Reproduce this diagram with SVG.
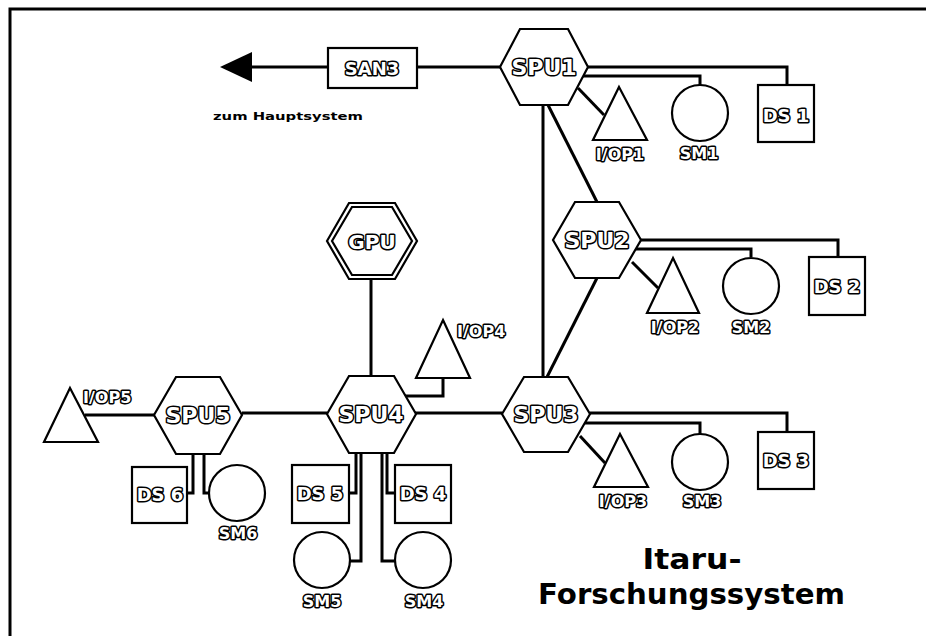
<svg xmlns="http://www.w3.org/2000/svg" width="926" height="636" viewBox="0 0 926 636">
<defs>
<style>
.sh{fill:#fff;stroke:#000;stroke-width:2.2;stroke-linejoin:miter}
.ln{fill:none;stroke:#000;stroke-width:3;stroke-linejoin:miter}
.ol{font-family:"DejaVu Sans",sans-serif;font-weight:bold;fill:#fff;stroke:#000;stroke-width:3;paint-order:stroke;stroke-linejoin:round;text-anchor:middle}
.st{text-anchor:start}
.hx{font-size:22px}
.ds{font-size:18px}
.sm{font-size:16px}
.io{font-size:16px}
.ti{font-family:"DejaVu Sans",sans-serif;font-weight:bold;fill:#000}
</style>
</defs>
<rect width="926" height="636" fill="#fff"/>
<g id="frame"><polyline points="10,636 10,9 926,9" fill="none" stroke="#000" stroke-width="3"/></g>

<g id="connectors">
<line class="ln" x1="250" y1="67" x2="328" y2="67"/>
<polygon points="220,67 252,52 252,82" fill="#000"/>
<line class="ln" x1="417" y1="67" x2="500" y2="67"/>
<polyline class="ln" points="588,67 787,67 787,85"/>
<polyline class="ln" points="583,76 700,76 700,85"/>
<line class="ln" x1="578" y1="88" x2="604" y2="115"/>
<line class="ln" x1="543" y1="105" x2="543" y2="377"/>
<line class="ln" x1="548" y1="105" x2="597" y2="202"/>
<polyline class="ln" points="641,240 838,240 838,257"/>
<polyline class="ln" points="636,249 751,249 751,257"/>
<line class="ln" x1="632" y1="262" x2="658" y2="288"/>
<line class="ln" x1="597" y1="278" x2="547" y2="377"/>
<polyline class="ln" points="590,413 787,413 787,432"/>
<polyline class="ln" points="585,423 700,423 700,434"/>
<line class="ln" x1="580" y1="436" x2="605" y2="463"/>
<line class="ln" x1="415" y1="413" x2="502" y2="413"/>
<line class="ln" x1="371" y1="279" x2="371" y2="376"/>
<polyline class="ln" points="443,378 443,396 405,396"/>
<polyline class="ln" points="356,453 356,493 349,493"/>
<polyline class="ln" points="361,453 361,561 350,561"/>
<polyline class="ln" points="387,453 387,493 395,493"/>
<polyline class="ln" points="382,453 382,561 395,561"/>
<line class="ln" x1="242" y1="413" x2="327" y2="413"/>
<line class="ln" x1="85" y1="415" x2="154" y2="415"/>
<polyline class="ln" points="193,454 193,493 187,493"/>
<polyline class="ln" points="204,454 204,493 209,493"/>
</g>

<g id="SAN3"><rect class="sh" x="328" y="48" width="89" height="40"/><text class="ol" x="372" y="75" font-size="18">SAN3</text></g>
<g id="zum"><text class="ti" x="213" y="120" font-size="11" textLength="150" lengthAdjust="spacingAndGlyphs">zum Hauptsystem</text></g>

<g id="SPU1"><polygon class="sh" points="500,67 520,29 568,29 588,67 568,105 520,105"/><text class="ol hx" x="544" y="75">SPU1</text></g>
<g id="SPU2"><polygon class="sh" points="553,240 575,202 619,202 641,240 619,278 575,278"/><text class="ol hx" x="597" y="248">SPU2</text></g>
<g id="SPU3"><polygon class="sh" points="502,414 524,377 568,377 590,414 568,452 524,452"/><text class="ol hx" x="546" y="422">SPU3</text></g>
<g id="SPU4"><polygon class="sh" points="327,414 349,376 394,376 416,414 394,453 349,453"/><text class="ol hx" x="371" y="422">SPU4</text></g>
<g id="SPU5"><polygon class="sh" points="154,415 176,377 220,377 242,415 220,454 176,454"/><text class="ol hx" x="198" y="423">SPU5</text></g>
<g id="GPU"><polygon class="sh" points="327,241 349,203 395,203 417,241 395,279 349,279"/><polygon class="sh" points="332,241 352,207 392,207 412,241 392,275 352,275"/><text class="ol" x="372" y="249" font-size="20">GPU</text></g>

<g id="DS1"><rect class="sh" x="758" y="85" width="56" height="57"/><text class="ol ds" x="786" y="122">DS 1</text></g>
<g id="DS2"><rect class="sh" x="809" y="257" width="56" height="58"/><text class="ol ds" x="837" y="293">DS 2</text></g>
<g id="DS3"><rect class="sh" x="758" y="432" width="56" height="57"/><text class="ol ds" x="786" y="467">DS 3</text></g>
<g id="DS4"><rect class="sh" x="395" y="465" width="56" height="58"/><text class="ol ds" x="423" y="500">DS 4</text></g>
<g id="DS5"><rect class="sh" x="292" y="465" width="57" height="58"/><text class="ol ds" x="320" y="500">DS 5</text></g>
<g id="DS6"><rect class="sh" x="132" y="467" width="55" height="56"/><text class="ol ds" x="160" y="501">DS 6</text></g>

<g id="SM1"><circle class="sh" cx="700" cy="113" r="28"/><text class="ol sm" x="699" y="159">SM1</text></g>
<g id="SM2"><circle class="sh" cx="751" cy="286" r="28"/><text class="ol sm" x="751" y="333">SM2</text></g>
<g id="SM3"><circle class="sh" cx="700" cy="462" r="28"/><text class="ol sm" x="702" y="507">SM3</text></g>
<g id="SM4"><circle class="sh" cx="423" cy="560" r="28"/><text class="ol sm" x="424" y="607">SM4</text></g>
<g id="SM5"><circle class="sh" cx="322" cy="560" r="28"/><text class="ol sm" x="322" y="607">SM5</text></g>
<g id="SM6"><circle class="sh" cx="237" cy="493" r="28"/><text class="ol sm" x="238" y="539">SM6</text></g>

<g id="IOP1"><polygon class="sh" points="619,87 647,140 593,140"/><text class="ol io" x="620" y="160">I/OP1</text></g>
<g id="IOP2"><polygon class="sh" points="673,258 699,313 647,313"/><text class="ol io" x="675" y="333">I/OP2</text></g>
<g id="IOP3"><polygon class="sh" points="620,434 648,487 594,487"/><text class="ol io" x="623" y="507">I/OP3</text></g>
<g id="IOP4"><polygon class="sh" points="443,320 470,378 416,378"/><text class="ol io st" x="457" y="337">I/OP4</text></g>
<g id="IOP5"><polygon class="sh" points="70,388 98,442 44,442"/><text class="ol io st" x="83" y="403">I/OP5</text></g>

<g id="title">
<text class="ti" x="692" y="569" font-size="28" text-anchor="middle" textLength="99" lengthAdjust="spacingAndGlyphs">Itaru-</text>
<text class="ti" x="538" y="604" font-size="28" textLength="307" lengthAdjust="spacingAndGlyphs">Forschungssystem</text>
</g>
</svg>
